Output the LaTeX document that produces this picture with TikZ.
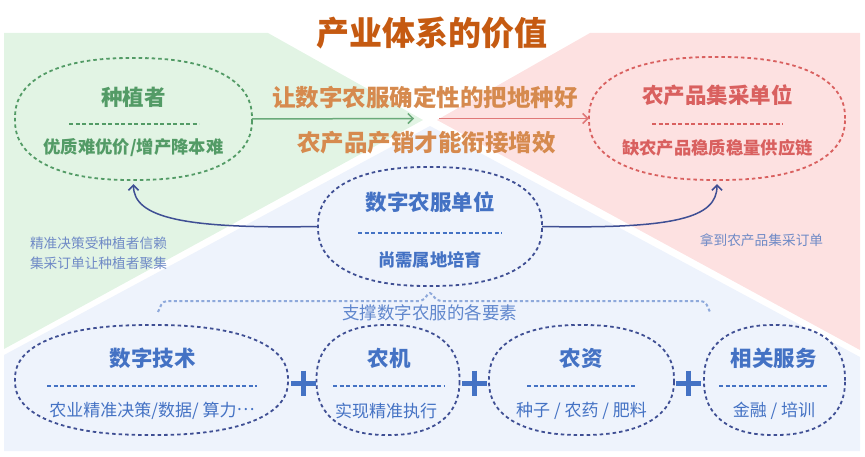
\documentclass[tikz,border=0pt]{standalone}
\usepackage{fontspec}
\setmainfont{Noto Sans CJK SC}
\usetikzlibrary{arrows.meta,calc}
\definecolor{bggreen}{HTML}{E2F4E4}
\definecolor{bgred}{HTML}{FDE1E1}
\definecolor{bgblue}{HTML}{EEF3FC}
\definecolor{titlec}{HTML}{C55A11}
\definecolor{orangec}{HTML}{D68A4E}
\definecolor{greenc}{HTML}{539B66}
\definecolor{greenarrow}{HTML}{6AAA7A}
\definecolor{redc}{HTML}{D9605F}
\definecolor{redarrow}{HTML}{E07878}
\definecolor{bluec}{HTML}{4472C4}
\definecolor{navyc}{HTML}{3F4F94}
\definecolor{lightblue}{HTML}{8EA9DB}
\definecolor{smallblue}{HTML}{6F8AC6}
\newcommand\myfs[1]{\fontsize{#1}{#1}\selectfont}
% superellipse outline around a named node: name, half width, half height, style
\newcommand\superoval[4]{%
  \draw[#4, shift={(#1.center)}] plot[smooth, domain=1:361, samples=145, variable=\t]
    ({#2*sign(cos(\t))*pow(abs(cos(\t)),0.85)}, {#3*sign(sin(\t))*pow(abs(sin(\t)),0.85)}) -- cycle;}
\tikzset{
  ovalbox/.style 2 args={minimum width=#1pt, minimum height=#2pt, inner sep=0pt, draw=none},
  ovalline/.style={line width=1.8pt, dash pattern=on 3.5pt off 3pt},
  sepline/.style={line width=1.4pt, dash pattern=on 4pt off 2.5pt},
  head/.style={inner sep=0pt, font=\myfs{21.5}\bfseries},
  desc/.style={inner sep=0pt, font=\myfs{17.3}\bfseries},
  bdesc/.style={inner sep=0pt, font=\myfs{17}, text=bluec},
  small/.style={inner sep=0pt, font=\myfs{13.7}, text=smallblue},
  slogan/.style={inner sep=0pt, font=\myfs{23.5}\bfseries, text=orangec},
  curvearrow/.style={navyc, line width=1.5pt, -{Straight Barb[length=5pt,width=10pt]}},
  plussign/.style={bluec, line width=5pt},
  support/.style={lightblue, line width=2pt, dash pattern=on 3pt off 2.5pt, rounded corners=4pt}
}
\begin{document}
\begin{tikzpicture}[x=1pt,y=-1pt]
\useasboundingbox (0,0) rectangle (865,457);
% backgrounds
\fill[bggreen] (4,33) -- (268,33) -- (423,120) -- (4,349) -- cycle;
\fill[bgred] (590,33) -- (860,33) -- (860,350) -- (437,120) -- cycle;
\fill[bgblue] (430,126) -- (860,357) -- (860,451) -- (4,451) -- (4,355) -- cycle;
% title
\node[inner sep=0pt, font=\myfs{33}\bfseries, text=titlec] (title) at (432,33) {产业体系的价值};
% slogans
\node[slogan] (slogan1) at (425,97) {让数字农服确定性的把地种好};
\node[slogan] (slogan2) at (426.5,143) {农产品产销才能衔接增效};
% grower
\node[ovalbox={237}{122}] (grower) at (133.5,119) {};
\superoval{grower}{118.5}{61}{ovalline, greenc}
\node[head, text=greenc] (growerT) at (133.5,97) {种植者};
\draw[sepline, greenc] (69,124) -- (199,124);
\node[desc, text=greenc] (growerD) at (133.5,148) {优质难优价/增产降本难};
% buyer
\node[ovalbox={256}{123}] (buyer) at (717,118.5) {};
\superoval{buyer}{128}{61.5}{ovalline, redc}
\node[head, text=redc] (buyerT) at (717.5,95) {农产品集采单位};
\draw[sepline, redc] (652,124) -- (783,124);
\node[desc, text=redc] (buyerD) at (717.5,148) {缺农产品稳质稳量供应链};
% service unit
\node[ovalbox={224}{119}] (service) at (430,226.5) {};
\superoval{service}{112}{59.5}{ovalline, navyc}
\node[head, text=bluec] (serviceT) at (430,202) {数字农服单位};
\draw[sepline, bluec] (358,233) -- (502,233);
\node[desc, text=bluec] (serviceD) at (430,260) {尚需属地培育};
% arrows
\coordinate (greenEnd) at (414,118.5);
\coordinate (redStart) at (439,118.5);
\draw[greenarrow, line width=1.5pt, -{Straight Barb[length=5pt,width=10pt]}] (grower.east) -- (greenEnd);
\draw[redarrow, line width=1.5pt, -{Straight Barb[length=5pt,width=10pt]}] (redStart) -- (buyer.west);
\draw[curvearrow] (service.west) .. controls (185,229) and (133.5,218) .. ([yshift=-4pt]grower.south);
\draw[curvearrow] (service.east) .. controls (675,229) and (717,218) .. ([yshift=-4pt]buyer.south);
\node[small] (note1) at (98.5,243) {精准决策受种植者信赖};
\node[small] (note2) at (98.5,263) {集采订单让种植者聚集};
\node[small] (note3) at (761.5,240) {拿到农产品集采订单};
% support bracket
\coordinate (sl) at (158,312);
\coordinate (sr) at (710,312);
\draw[support] (sl) -- (163,301) -- (423,301) -- ([yshift=-5pt]service.south) -- (437,301) -- (705,301) -- (sr);
\node[inner sep=0pt, font=\myfs{17.5}, text=bluec!85!white] (supportT) at (429.5,313) {支撑数字农服的各要素};
% bottom elements
\node[ovalbox={273}{110}] (tech) at (151.5,380) {};
\superoval{tech}{136.5}{55}{ovalline, navyc}
\node[head, text=bluec] (techT) at (152.5,358) {数字技术};
\draw[sepline, bluec] (47,386) -- (257,386);
\node[bdesc] (techD) at (152,411) {农业精准决策/数据/ 算力\raisebox{0.34em}{…}};

\node[ovalbox={143}{110}] (machine) at (388,380) {};
\superoval{machine}{71.5}{55}{ovalline, navyc}
\node[head, text=bluec] (machineT) at (389,358) {农机};
\draw[sepline, bluec] (333,386) -- (444,386);
\node[bdesc] (machineD) at (386,411) {实现精准执行};

\node[ovalbox={185}{110}] (inputs) at (581.5,380) {};
\superoval{inputs}{92.5}{55}{ovalline, navyc}
\node[head, text=bluec] (inputsT) at (581,358) {农资};
\draw[sepline, bluec] (527,386) -- (636,386);
\node[bdesc] (inputsD) at (581.5,411) {种子 / 农药 / 肥料};

\node[ovalbox={141}{110}] (services) at (774.5,380) {};
\superoval{services}{70.5}{55}{ovalline, navyc}
\node[head, text=bluec] (servicesT) at (773.5,358) {相关服务};
\draw[sepline, bluec] (719,386) -- (829,386);
\node[bdesc] (servicesD) at (774,411) {金融 / 培训};
% plus signs
\draw[plussign] (291,383) -- (316,383) (303.5,370.5) -- (303.5,395.5);
\draw[plussign] (462,383) -- (487,383) (474.5,370.5) -- (474.5,395.5);
\draw[plussign] (676,383) -- (701,383) (688.5,370.5) -- (688.5,395.5);
\end{tikzpicture}
\end{document}
